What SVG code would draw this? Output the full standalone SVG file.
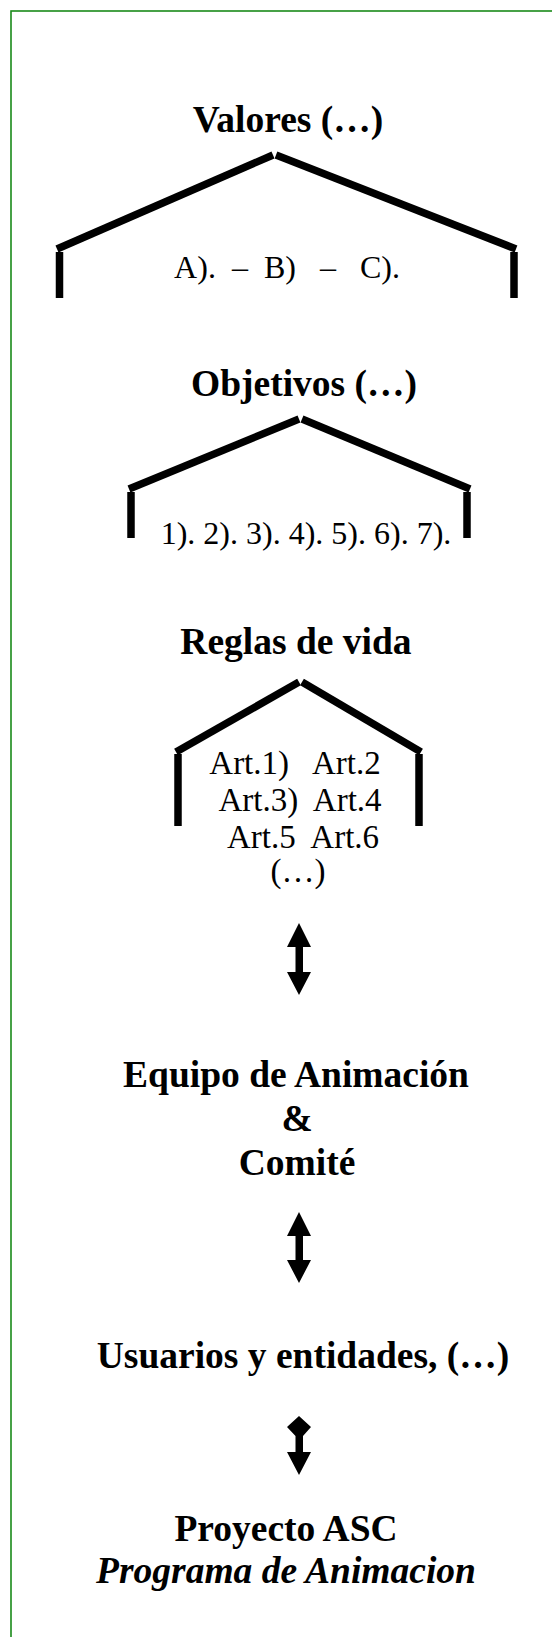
<svg xmlns="http://www.w3.org/2000/svg" width="552" height="1637" viewBox="0 0 552 1637">
<style>
.h{font-family:"Liberation Serif","Times New Roman",serif;font-weight:bold;font-size:37.5px;fill:#000;text-anchor:middle}
.t{font-family:"Liberation Serif","Times New Roman",serif;font-size:32px;fill:#000;text-anchor:middle}
.a{font-size:33px}
.i{font-style:italic}
.roof{stroke:#000;stroke-width:7.5;fill:none;stroke-linecap:butt}
.arr{fill:#000;stroke:none}
</style>
<rect x="0" y="0" width="552" height="1637" fill="#fff"/>
<rect x="11" y="11" width="620" height="1700" fill="none" stroke="#1a8a1a" stroke-width="1.6"/>
<g id="valores">
<text class="h" x="288" y="132">Valores (…)</text>
<line class="roof" x1="57" y1="249" x2="273" y2="155"/>
<line class="roof" x1="276" y1="155" x2="516" y2="249"/>
<line class="roof" x1="59.5" y1="252" x2="59.5" y2="298"/>
<line class="roof" x1="514" y1="252" x2="514" y2="298"/>
<text class="t" x="287" y="278" xml:space="preserve">A).  –  B)   –   C).</text>
</g>
<g id="objetivos">
<text class="h" x="304" y="396">Objetivos (…)</text>
<line class="roof" x1="129" y1="489" x2="299" y2="419"/>
<line class="roof" x1="302" y1="419" x2="470" y2="489"/>
<line class="roof" x1="131" y1="492" x2="131" y2="538"/>
<line class="roof" x1="467" y1="492" x2="467" y2="538"/>
<text class="t" x="306" y="544">1). 2). 3). 4). 5). 6). 7).</text>
</g>
<g id="reglas">
<text class="h" x="296" y="654">Reglas de vida</text>
<line class="roof" x1="176" y1="752" x2="299" y2="682"/>
<line class="roof" x1="302" y1="682" x2="421" y2="752"/>
<line class="roof" x1="178" y1="754" x2="178" y2="826"/>
<line class="roof" x1="419" y1="754" x2="419" y2="826"/>
<text class="t a" x="295" y="774" xml:space="preserve">Art.1)   Art.2</text>
<text class="t a" x="300" y="811" xml:space="preserve">Art.3)  Art.4</text>
<text class="t a" x="303" y="848" xml:space="preserve">Art.5  Art.6</text>
<text class="t a" x="298" y="882">(…)</text>
</g>
<g id="equipo">
<text class="h" x="296" y="1087">Equipo de Animación</text>
<text class="h" x="297" y="1131">&amp;</text>
<text class="h" x="297" y="1175">Comité</text>
</g>
<g id="usuarios">
<text class="h" x="303" y="1368">Usuarios y entidades, (…)</text>
</g>
<g id="proyecto">
<text class="h" x="286" y="1541">Proyecto ASC</text>
<text class="h i" x="286" y="1583">Programa de Animacion</text>
</g>
<g id="connectors">
<path class="arr" d="M299,923 L311,947 L303,947 L303,972 L311,972 L299,995 L287,972 L295.5,972 L295.5,947 L287,947 Z"/>
<path class="arr" d="M299,1212 L311,1236 L303,1236 L303,1260 L311,1260 L299,1283 L287,1260 L295.5,1260 L295.5,1236 L287,1236 Z"/>
<path class="arr" d="M299,1416 L311,1427 L303,1436 L303,1452 L311,1452 L299,1475 L287,1452 L295.5,1452 L295.5,1436 L287,1427 Z"/>
</g>
</svg>
